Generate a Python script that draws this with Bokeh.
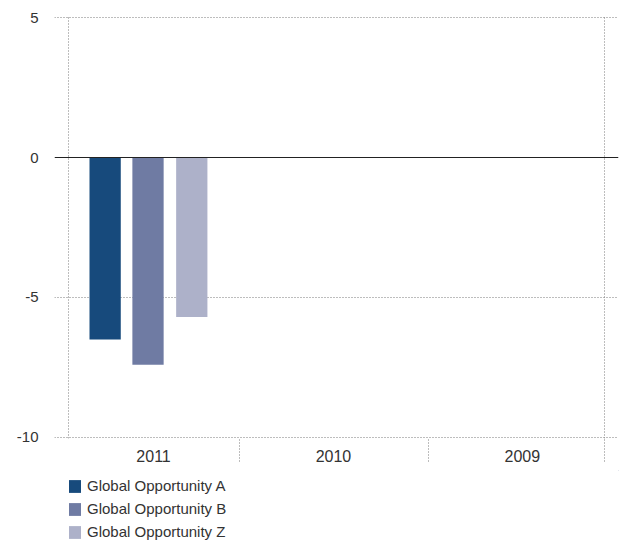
from bokeh.plotting import figure
from bokeh.layouts import column
from bokeh.models import (Range1d, FixedTicker, Span, Legend, LegendItem,
                          ColumnDataSource)
from bokeh.embed import file_html
from bokeh.resources import INLINE

# ---- data ----
years = ["2011", "2010", "2009"]
series = ["Global Opportunity A", "Global Opportunity B", "Global Opportunity Z"]
opp_a = [-6.5, 0, 0]
opp_b = [-7.4, 0, 0]
opp_z = [-5.7, 0, 0]
y_ticks = [5, 0, -5, -10]
y_labels = ["5", "0", "-5", "-10"]

# ---- style ----
colors = ["#174a7c", "#6f7ba3", "#adb1c9"]
offsets = [-0.295, -0.055, 0.19]
bar_w = 0.175
label_shift = [-0.024, -0.017, 0.04]
bound_shift = [-0.043, 0.015, 0.0]
font = "Liberation Sans"
txt = "#333333"
dot = "#7a7a7a"

xs = list(range(len(years)))

p = figure(width=629, height=470, output_backend="svg", toolbar_location=None,
           x_range=Range1d(-0.5784, 2.5784), y_range=Range1d(-10.036, 5.036),
           min_border_left=54, min_border_right=11, min_border_top=16,
           min_border_bottom=32)
p.outline_line_color = None
p.background_fill_color = "white"
p.border_fill_color = "white"

renderers = []
for vals, off, col in zip([opp_a, opp_b, opp_z], offsets, colors):
    src = ColumnDataSource(dict(x=[x + off for x in xs], top=vals))
    r = p.vbar(x="x", top="top", bottom=0, width=bar_w, source=src,
               fill_color=col, line_color=None)
    renderers.append(r)

p.add_layout(Span(location=0, dimension="width", line_color="#222222",
                  line_width=1.2))

# grids
p.ygrid.ticker = FixedTicker(ticks=[t for t in y_ticks if t != 0])
p.ygrid.grid_line_color = dot
p.ygrid.grid_line_dash = "1 2"
p.ygrid.grid_line_width = 1
p.xgrid.ticker = FixedTicker(ticks=[-0.5, len(years) - 0.5])
p.xgrid.grid_line_color = dot
p.xgrid.grid_line_dash = "1 2"

# x axis
label_pos = [x + s for x, s in zip(xs, label_shift)]
xa = p.xaxis[0]
xa.ticker = FixedTicker(ticks=label_pos,
                        minor_ticks=[x + 0.5 + s for x, s in zip(xs, bound_shift)])
xa.major_label_overrides = {x: y for x, y in zip(label_pos, years)}
xa.major_tick_out = 0
xa.major_tick_in = 0
xa.major_tick_line_color = None
xa.minor_tick_out = 23
xa.minor_tick_in = 0
xa.minor_tick_line_color = dot
xa.minor_tick_line_dash = "1 2"
xa.axis_line_color = None
xa.major_label_standoff = -12
xa.major_label_text_font = font
xa.major_label_text_font_size = "16px"
xa.major_label_text_color = txt

# y axis
ya = p.yaxis[0]
ya.ticker = FixedTicker(ticks=y_ticks)
ya.major_label_overrides = {t: l for t, l in zip(y_ticks, y_labels)}
ya.major_tick_out = 0
ya.major_tick_in = 0
ya.major_tick_line_color = None
ya.minor_tick_line_color = None
ya.axis_line_color = None
ya.major_label_standoff = 16
ya.major_label_text_font = font
ya.major_label_text_font_size = "15px"
ya.major_label_text_color = txt

# ---- legend panel ----
p2 = figure(width=629, height=72, output_backend="svg", toolbar_location=None,
            x_axis_type=None, y_axis_type=None,
            x_range=Range1d(0, 1), y_range=Range1d(0, 1),
            min_border_left=0, min_border_right=0, min_border_top=0,
            min_border_bottom=0)
p2.outline_line_color = None
p2.xgrid.visible = False
p2.ygrid.visible = False
p2.border_fill_color = "white"

leg_r = []
for col in colors:
    # placeholder glyph kept outside the visible range; only its legend swatch shows
    leg_r.append(p2.vbar(x=[50], top=[50], bottom=[49], width=0.1,
                         fill_color=col, line_color=None))

legend = Legend(items=[LegendItem(label=s, renderers=[r])
                       for s, r in zip(series, leg_r)],
                location=(13, 2), orientation="vertical",
                glyph_width=15, glyph_height=16, label_standoff=5,
                label_height=17, spacing=6, padding=0, margin=0,
                border_line_color=None, background_fill_alpha=0,
                label_text_font=font, label_text_font_size="15px",
                label_text_color=txt)
p2.add_layout(legend)

layout = column(p, p2, spacing=0)
open("out.html", "w").write(file_html(layout, INLINE))
